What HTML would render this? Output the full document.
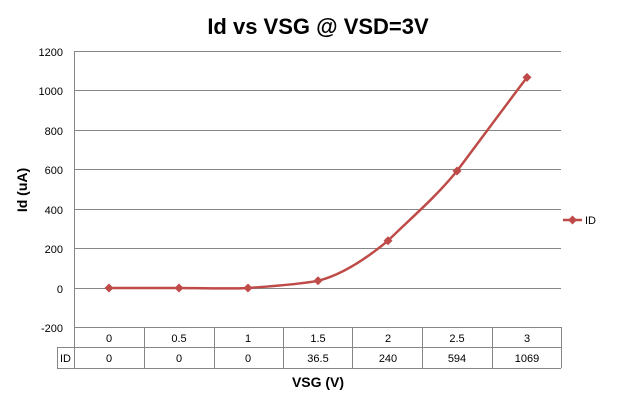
<!DOCTYPE html>
<html><head><meta charset="utf-8"><style>
body{margin:0;background:#fff;}
svg text{font-family:"Liberation Sans",Arial,sans-serif;}
</style></head><body>
<svg width="637" height="405" xmlns="http://www.w3.org/2000/svg">
<rect width="637" height="405" fill="#fff"/>
<text x="318" y="34" font-size="22" font-weight="bold" text-anchor="middle" fill="#000">Id vs VSG @ VSD=3V</text>
<g stroke="#868686" stroke-width="1" shape-rendering="crispEdges">
<line x1="74" y1="51.5" x2="561" y2="51.5"/>
<line x1="74" y1="90.5" x2="561" y2="90.5"/>
<line x1="74" y1="130.5" x2="561" y2="130.5"/>
<line x1="74" y1="169.5" x2="561" y2="169.5"/>
<line x1="74" y1="209.5" x2="561" y2="209.5"/>
<line x1="74" y1="248.5" x2="561" y2="248.5"/>
<line x1="74" y1="288.5" x2="561" y2="288.5"/>
<line x1="74.5" y1="51" x2="74.5" y2="368"/>
<line x1="74" y1="327.5" x2="561" y2="327.5"/>
<line x1="57" y1="347.5" x2="561" y2="347.5"/>
<line x1="57" y1="368.5" x2="561" y2="368.5"/>
<line x1="57.5" y1="347" x2="57.5" y2="368"/>
<line x1="144.5" y1="327" x2="144.5" y2="368"/>
<line x1="214.5" y1="327" x2="214.5" y2="368"/>
<line x1="283.5" y1="327" x2="283.5" y2="368"/>
<line x1="352.5" y1="327" x2="352.5" y2="368"/>
<line x1="422.5" y1="327" x2="422.5" y2="368"/>
<line x1="492.5" y1="327" x2="492.5" y2="368"/>
<line x1="561.5" y1="327" x2="561.5" y2="368"/>
</g>
<g font-size="11" text-anchor="end" fill="#000">
<text x="63" y="56">1200</text><text x="63" y="95">1000</text><text x="63" y="135">800</text>
<text x="63" y="174">600</text><text x="63" y="214">400</text><text x="63" y="253">200</text>
<text x="63" y="293">0</text><text x="63" y="332">-200</text>
</g>
<g font-size="11" text-anchor="middle" fill="#000">
<text x="109" y="342">0</text><text x="179" y="342">0.5</text><text x="248" y="342">1</text>
<text x="318" y="342">1.5</text><text x="388" y="342">2</text><text x="457" y="342">2.5</text><text x="527" y="342">3</text>
<text x="109" y="362">0</text><text x="179" y="362">0</text><text x="248" y="362">0</text>
<text x="318" y="362">36.5</text><text x="388" y="362">240</text><text x="457" y="362">594</text><text x="527" y="362">1069</text>
</g>
<text x="60" y="362" font-size="11" fill="#000">ID</text>
<text x="318" y="387" font-size="14" font-weight="bold" text-anchor="middle">VSG (V)</text>
<text transform="translate(27,190) rotate(-90)" font-size="14" font-weight="bold" text-anchor="middle">Id (uA)</text>
<path d="M109,288 C120.7,288 167.3,288 179,288 C190.5,288 236.5,289 248,288 C259.7,287 294.7,285 318,280.8 C341.3,275 364.7,260 388,240.7 C411,218 434,199 457,171 C480.3,140 503.7,108 527,77.4" fill="none" stroke="#BE4B48" stroke-width="2.5"/>
<g fill="#BE4B48">
<path d="M109,283.5l4.5,4.5l-4.5,4.5l-4.5,-4.5z"/>
<path d="M179,283.5l4.5,4.5l-4.5,4.5l-4.5,-4.5z"/>
<path d="M248,283.5l4.5,4.5l-4.5,4.5l-4.5,-4.5z"/>
<path d="M318,276.3l4.5,4.5l-4.5,4.5l-4.5,-4.5z"/>
<path d="M388,236.2l4.5,4.5l-4.5,4.5l-4.5,-4.5z"/>
<path d="M457,166.5l4.5,4.5l-4.5,4.5l-4.5,-4.5z"/>
<path d="M527,72.9l4.5,4.5l-4.5,4.5l-4.5,-4.5z"/>
</g>
<line x1="563" y1="220" x2="582" y2="220" stroke="#BE4B48" stroke-width="2.5"/>
<path d="M572.5,215.5l4.5,4.5l-4.5,4.5l-4.5,-4.5z" fill="#BE4B48"/>
<text x="585" y="224" font-size="11">ID</text>
</svg>
</body></html>
